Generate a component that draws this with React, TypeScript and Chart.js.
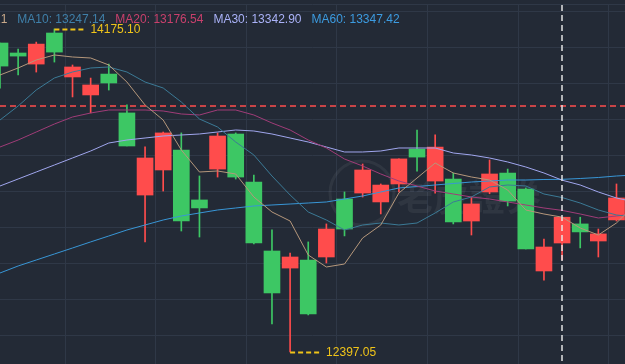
import { useEffect, useRef } from 'react';
import { Chart, registerables } from 'chart.js';

Chart.register(...registerables);

// ---- data ----
const opens = [13971, 14026, 14092, 14048, 13966, 13867, 13878, 13531, 13465, 13603, 13118, 13190, 13586, 13360, 12997, 12722, 12920, 12606, 13074, 13074, 13399, 13316, 13460, 13470, 13525, 13113, 13212, 13377, 13228, 12964, 12975, 13139, 13058, 13047, 13245];
const closes = [14098, 14043, 13982, 14153, 13911, 13812, 13927, 13713, 13261, 13399, 13509, 13234, 13404, 13597, 13333, 12953, 12859, 12903, 12920, 13239, 13272, 13223, 13322, 13514, 13338, 13349, 13118, 13278, 13382, 13294, 12843, 12997, 13102, 13008, 13124];
const highs = [14098, 14065, 14103, 14175.1, 13977, 13905, 13982, 13757, 13526, 13608, 13603, 13366, 13603, 13603, 13371, 13069, 12942, 13003, 13102, 13278, 13432, 13322, 13460, 13619, 13592, 13382, 13250, 13454, 13404, 13300, 13019, 13139, 13139, 13074, 13322];
const lows = [13850, 13922, 13938, 13993, 13801, 13713, 13839, 13531, 13003, 13283, 13063, 13030, 13360, 13349, 12992, 12551, 12397.05, 12601, 12887, 13036, 13250, 13157, 13278, 13393, 13272, 13102, 13041, 13268, 13201, 12964, 12793, 12904, 12970, 12920, 13118];

// moving averages (one extra point past the right edge, partly visible)
const ma5 = [13921.9, 13960.4, 14004.5, 14032.0, 14021.0, 14015.5, 13976.9, 13883.3, 13756.7, 13674.2, 13509.0, 13387.9, 13393.4, 13376.9, 13250.3, 13167.7, 13118.2, 12931.0, 12864.9, 12881.4, 13024.6, 13096.1, 13272.3, 13354.9, 13437.4, 13382.4, 13360.4, 13343.8, 13288.8, 13178.7, 13156.7, 13139.2, 13079.6, 13041.1, 13107.2, 13206.2];
const ma10 = [13674.2, 13751.2, 13839.3, 13905.4, 13938.4, 13960.4, 13965.9, 13938.4, 13883.3, 13850.3, 13773.2, 13679.7, 13635.6, 13553.0, 13481.5, 13365.9, 13261.3, 13167.7, 13123.7, 13068.6, 13096.1, 13107.1, 13096.1, 13107.1, 13162.2, 13222.8, 13250.3, 13305.3, 13316.3, 13310.8, 13266.8, 13247.14, 13217.2, 13178.7, 13151.2, 13140.2];
const ma20 = [13525.5, 13564.0, 13608.1, 13652.1, 13690.7, 13712.7, 13729.2, 13729.2, 13729.2, 13723.7, 13707.2, 13701.7, 13729.2, 13729.2, 13701.7, 13657.6, 13619.1, 13564.0, 13520.0, 13459.5, 13420.9, 13376.9, 13338.3, 13310.8, 13283.3, 13266.8, 13250.3, 13239.3, 13222.8, 13206.2, 13189.7, 13176.54, 13156.7, 13134.7, 13145.7, 13156.7];
const ma30 = [13310.8, 13349.4, 13387.9, 13426.4, 13465.0, 13503.5, 13547.5, 13564.0, 13575.0, 13586.1, 13591.6, 13597.1, 13608.1, 13619.1, 13613.6, 13597.1, 13575.0, 13553.0, 13525.5, 13498.0, 13498.0, 13503.5, 13520.0, 13520.0, 13520.0, 13492.5, 13481.5, 13465.0, 13443.0, 13415.4, 13382.4, 13342.9, 13316.3, 13277.8, 13244.8, 13222.8];
const ma60 = [12831.9, 12870.4, 12903.5, 12936.5, 12969.5, 13003.0, 13035.6, 13068.6, 13096.1, 13123.7, 13145.7, 13162.2, 13178.7, 13189.7, 13200.7, 13206.2, 13211.7, 13217.2, 13222.8, 13239.3, 13255.8, 13277.8, 13299.8, 13308.1, 13316.3, 13324.6, 13332.8, 13338.3, 13343.8, 13343.8, 13346.6, 13347.42, 13352.1, 13357.6, 13365.9, 13371.4];

const legendLabels = ['MA5: 13139.21', 'MA10: 13247.14', 'MA20: 13176.54', 'MA30: 13342.90', 'MA60: 13347.42'];
const highLabel = '14175.10';
const lowLabel = '12397.05';
const gridPrices = [14312.7, 14268.7, 14071.1, 13873.5, 13676.0, 13478.4, 13280.8, 13083.2, 12885.6, 12688.1, 12490.5];
const gridSlots = [3.585, 8.585, 13.585, 18.585, 23.585, 28.585, 33.585];
const crosshairIndex = 31;
const crosshairPrice = 13751.2;
const priceMin = 12330.9;
const priceMax = 14312.7;
const slotMin = 0;
const slotMax = 34.47;
const watermarkText = '老虎證券';

// ---- styles ----
const BG = '#232a36';
const GRID = '#2f3847';
const UP = '#3dc764';
const DOWN = '#ff4c4c';
const YELLOW = '#f0c419';
const lineColors = ['#b5977b', '#3b7a96', '#a03c78', '#a0a6ee', '#3896d6'];
const legendColors = ['#c9a98a', '#3f80aa', '#c8406c', '#aab2f8', '#3c9be0'];
const FONT = "12px 'Liberation Sans', Arial, sans-serif";

const candleColors = opens.map((o, i) => (closes[i] >= opens[i] ? UP : DOWN));

const overlayPlugin = {
  id: 'overlay',
  beforeDraw(chart: any) {
    const ctx = chart.ctx;
    ctx.save();
    ctx.fillStyle = BG;
    ctx.fillRect(0, 0, chart.width, chart.height);
    ctx.restore();
  },
  beforeDatasetsDraw(chart: any) {
    const ctx = chart.ctx;
    ctx.save();
    ctx.strokeStyle = 'rgba(255,255,255,0.06)';
    ctx.lineWidth = 3;
    ctx.beginPath();
    ctx.arc(362, 193, 32, 0, Math.PI * 2);
    ctx.stroke();
    ctx.fillStyle = 'rgba(255,255,255,0.06)';
    ctx.font = "bold 36px 'Noto Sans CJK TC', sans-serif";
    ctx.textBaseline = 'middle';
    ctx.fillText(watermarkText, 397, 197);
    ctx.restore();
  },
  afterDatasetsDraw(chart: any) {
    const ctx = chart.ctx;
    const xs = chart.scales.x;
    const ys = chart.scales.y;
    const area = chart.chartArea;
    ctx.save();
    ctx.font = FONT;
    ctx.textBaseline = 'middle';
    const hiVal = Math.max(...highs);
    const loVal = Math.min(...lows);
    const marks = [
      { i: highs.indexOf(hiVal), v: hiVal, t: highLabel },
      { i: lows.indexOf(loVal), v: loVal, t: lowLabel },
    ];
    marks.forEach((m) => {
      const px = xs.getPixelForValue(m.i);
      const py = Math.round(ys.getPixelForValue(m.v)) + 0.5;
      ctx.strokeStyle = YELLOW;
      ctx.lineWidth = 2;
      ctx.setLineDash([5, 3]);
      ctx.beginPath();
      ctx.moveTo(px, py);
      ctx.lineTo(px + 30, py);
      ctx.stroke();
      ctx.setLineDash([]);
      ctx.fillStyle = YELLOW;
      ctx.fillText(m.t, px + 36, py);
    });
    const cx = Math.round(xs.getPixelForValue(crosshairIndex));
    const cy = Math.round(ys.getPixelForValue(crosshairPrice));
    ctx.lineWidth = 1.5;
    ctx.setLineDash([6, 4]);
    ctx.strokeStyle = '#ff4d4d';
    ctx.beginPath();
    ctx.moveTo(0, cy);
    ctx.lineTo(chart.width, cy);
    ctx.stroke();
    ctx.strokeStyle = 'rgba(235,235,235,0.95)';
    ctx.beginPath();
    ctx.moveTo(cx, area.top + 1);
    ctx.lineTo(cx, area.bottom);
    ctx.stroke();
    ctx.restore();
  },
  afterDraw(chart: any) {
    const ctx = chart.ctx;
    ctx.save();
    ctx.font = FONT;
    ctx.textBaseline = 'middle';
    const gap = 10;
    const firstW = ctx.measureText(legendLabels[0]).width;
    let x = 17.3 - gap - firstW;
    legendLabels.forEach((t, i) => {
      ctx.fillStyle = legendColors[i];
      ctx.fillText(t, x, 19.5);
      x += ctx.measureText(t).width + gap;
    });
    ctx.restore();
  },
};

export default function App() {
  const ref = useRef<HTMLCanvasElement | null>(null);

  useEffect(() => {
    document.body.style.margin = '0';
    document.body.style.background = BG;
    if (!ref.current) return;
    const idx = opens.map((_, i) => i);
    const lineDs = (label: string, arr: number[], color: string, order: number) => ({
      type: 'line' as const,
      label,
      data: arr.map((v, i) => ({ x: i, y: v })),
      borderColor: color,
      borderWidth: 1,
      pointRadius: 0,
      tension: 0,
      fill: false,
      order,
    });
    const chart = new Chart(ref.current, {
      type: 'bar',
      data: {
        datasets: [
          {
            type: 'bar',
            label: 'wick',
            data: idx.map((i) => ({ x: i, y: [lows[i], highs[i]] })) as any,
            backgroundColor: candleColors,
            barThickness: 1,
            grouped: false,
            borderWidth: 0,
            order: 20,
          },
          {
            type: 'bar',
            label: 'body',
            data: idx.map((i) => ({ x: i, y: [opens[i], closes[i]] })) as any,
            backgroundColor: candleColors,
            barThickness: 16,
            grouped: false,
            borderWidth: 0,
            order: 10,
          },
          lineDs('MA60', ma60, lineColors[4], 5),
          lineDs('MA30', ma30, lineColors[3], 4),
          lineDs('MA20', ma20, lineColors[2], 3),
          lineDs('MA10', ma10, lineColors[1], 2),
          lineDs('MA5', ma5, lineColors[0], 1),
        ] as any,
      },
      options: {
        responsive: false,
        maintainAspectRatio: false,
        animation: false,
        events: [],
        layout: { padding: { top: 4, left: 0, right: 0, bottom: 0 } },
        plugins: { legend: { display: false }, tooltip: { enabled: false } },
        scales: {
          x: {
            type: 'linear',
            min: slotMin,
            max: slotMax,
            offset: false,
            afterBuildTicks: (s: any) => {
              s.ticks = gridSlots.map((v) => ({ value: v }));
            },
            afterFit: (s: any) => {
              s.height = 0;
            },
            ticks: { display: false },
            border: { display: false },
            grid: { color: GRID, lineWidth: 1, drawTicks: false, offset: false },
          },
          y: {
            type: 'linear',
            min: priceMin,
            max: priceMax,
            afterBuildTicks: (s: any) => {
              s.ticks = gridPrices.map((v) => ({ value: v }));
            },
            afterFit: (s: any) => {
              s.width = 0;
            },
            ticks: { display: false },
            border: { display: false },
            grid: { color: GRID, lineWidth: 1, drawTicks: false },
          },
        },
      } as any,
      plugins: [overlayPlugin],
    });
    return () => chart.destroy();
  }, []);

  return (
    <div style={{ width: 625, height: 364 }}>
      <canvas ref={ref} width={625} height={364} style={{ display: 'block' }} />
    </div>
  );
}
